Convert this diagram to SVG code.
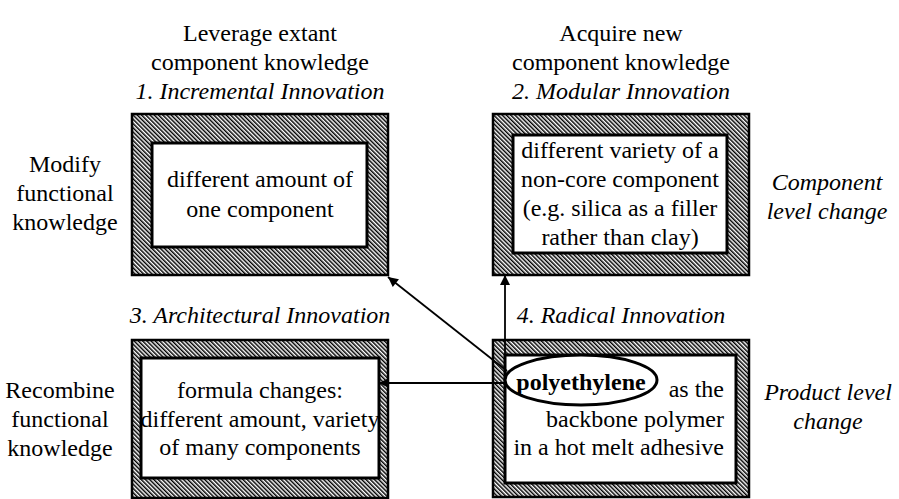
<svg xmlns="http://www.w3.org/2000/svg" width="899" height="499" viewBox="0 0 899 499" font-family="Liberation Serif" font-size="24">
<defs>
<pattern id="hatch" width="3" height="3" patternUnits="userSpaceOnUse" patternTransform="rotate(-45)">
<rect width="3" height="3" fill="#fff"/>
<rect width="1.5" height="3" fill="#000"/>
</pattern>
<marker id="ah" viewBox="0 0 10 10" refX="10" refY="5" markerWidth="12" markerHeight="10" markerUnits="userSpaceOnUse" orient="auto">
<path d="M0,0 L10,5 L0,10 z" fill="#000"/>
</marker>
</defs>
<g id="headers" font-family="Liberation Serif" font-size="24" text-anchor="middle">
<text x="260" y="41">Leverage extant</text>
<text x="260" y="70">component knowledge</text>
<text x="621" y="41">Acquire new</text>
<text x="621" y="70">component knowledge</text>
<g font-style="italic">
<text x="260" y="99">1. Incremental Innovation</text>
<text x="621" y="99">2. Modular Innovation</text>
<text x="260" y="323">3. Architectural Innovation</text>
<text x="621" y="323">4. Radical Innovation</text>
</g>
</g>
<g id="row-labels" font-family="Liberation Serif" font-size="24" text-anchor="middle">
<text x="65" y="172">Modify</text>
<text x="65" y="201">functional</text>
<text x="65" y="230">knowledge</text>
<text x="60" y="398">Recombine</text>
<text x="60" y="427">functional</text>
<text x="60" y="456">knowledge</text>
<g font-style="italic">
<text x="827" y="190">Component</text>
<text x="827" y="219">level change</text>
<text x="828" y="400">Product level</text>
<text x="828" y="429">change</text>
</g>
</g>
<g id="node1" font-family="Liberation Serif" font-size="24" text-anchor="middle">
<rect x="132" y="114" width="256" height="161" fill="url(#hatch)" stroke="#000" stroke-width="2.5"/>
<rect x="152" y="143" width="215" height="104" fill="#fff" stroke="#000" stroke-width="3"/>
<text x="260" y="187">different amount of</text>
<text x="260" y="217">one component</text>
</g>
<g id="node2" font-family="Liberation Serif" font-size="24" text-anchor="middle">
<rect x="493" y="114" width="256" height="161" fill="url(#hatch)" stroke="#000" stroke-width="2.5"/>
<rect x="513" y="135" width="214" height="118" fill="#fff" stroke="#000" stroke-width="3"/>
<text x="620" y="158">different variety of a</text>
<text x="620" y="187">non-core component</text>
<text x="620" y="216">(e.g. silica as a filler</text>
<text x="620" y="245">rather than clay)</text>
</g>
<g id="node3" font-family="Liberation Serif" font-size="24" text-anchor="middle">
<rect x="132" y="340" width="256" height="158" fill="url(#hatch)" stroke="#000" stroke-width="2.5"/>
<rect x="141" y="358" width="238" height="120" fill="#fff" stroke="#000" stroke-width="3"/>
<text x="260" y="398">formula changes:</text>
<text x="260" y="427">different amount, variety</text>
<text x="260" y="455">of many components</text>
</g>
<g id="node4" font-family="Liberation Serif" font-size="24">
<rect x="493" y="340" width="256" height="157" fill="url(#hatch)" stroke="#000" stroke-width="2.5"/>
<rect x="505" y="355" width="231" height="128" fill="#fff" stroke="#000" stroke-width="3"/>
<ellipse cx="581" cy="380" rx="76" ry="25" fill="#fff" stroke="#000" stroke-width="3"/>
<text x="581" y="390" text-anchor="middle" font-weight="bold">polyethylene</text>
<g text-anchor="end">
<text x="724" y="397">as the</text>
<text x="724" y="427">backbone polymer</text>
<text x="724" y="455">in a hot melt adhesive</text>
</g>
</g>
<g id="connectors" stroke="#000" stroke-width="1.8" fill="none" marker-end="url(#ah)">
<path d="M507,371 L388,277"/>
<path d="M505,372 L505,275"/>
<path d="M506,383 L379,383"/>
</g>
</svg>
